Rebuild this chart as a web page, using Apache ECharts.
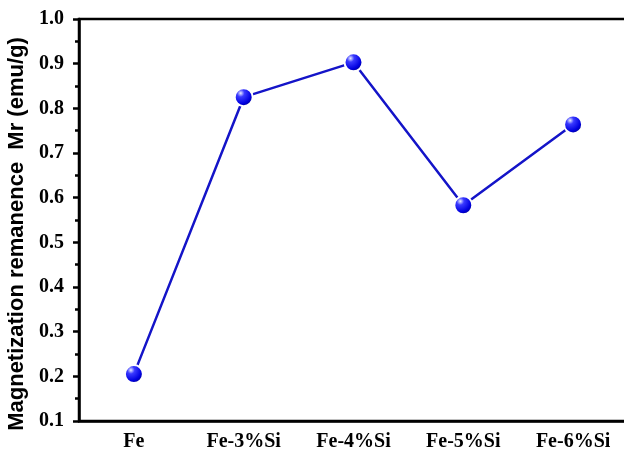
<!DOCTYPE html>
<html>
<head>
<meta charset="utf-8">
<script src="https://cdn.jsdelivr.net/npm/echarts@6/dist/echarts.min.js"></script>
<style>
  html, body { margin: 0; padding: 0; background: #fff; }
  #chart { width: 624px; height: 457px; }
</style>
</head>
<body>
<div id="chart"></div>
<script>
// Samples along the x axis
const categories = ['Fe', 'Fe-3%Si', 'Fe-4%Si', 'Fe-5%Si', 'Fe-6%Si'];
// Remanent magnetization Mr (emu/g)
const mrValues = [0.205, 0.825, 0.903, 0.583, 0.764];

const yMin = 0.1, yMax = 1.0, yStep = 0.1;

const chart = echarts.init(document.getElementById('chart'), null, { renderer: 'canvas' });

const labelFont = {
  fontFamily: '"Liberation Serif", "Times New Roman", serif',
  fontWeight: 'bold',
  fontSize: 20,
  color: '#000'
};

// Glossy blue ball used for each point
const ballFill = new echarts.graphic.RadialGradient(0.35, 0.3, 0.75, [
  { offset: 0, color: '#e8ecff' },
  { offset: 0.25, color: '#3a3aff' },
  { offset: 0.7, color: '#0000e0' },
  { offset: 1, color: '#00007a' }
]);

chart.setOption({
  animation: false,
  grid: {
    left: 79, top: 19, right: -4, bottom: 36,
    outerBoundsMode: 'none',
    containLabel: false,
    show: true, borderColor: '#000', borderWidth: 2.5, backgroundColor: 'transparent'
  },
  xAxis: [
    {
      type: 'category',
      data: categories,
      boundaryGap: true,
      position: 'bottom',
      axisLine: { lineStyle: { color: '#000', width: 2.5 } },
      axisTick: { alignWithLabel: true, length: 6, lineStyle: { color: '#000', width: 2.5 } },
      axisLabel: Object.assign({ margin: 11, interval: 0 }, labelFont),
      splitLine: { show: false }
    },
    {
      // boundary ticks between the samples
      type: 'category',
      data: categories,
      boundaryGap: true,
      position: 'bottom',
      axisLine: { show: false },
      axisTick: { length: 4, interval: 0, lineStyle: { color: '#000', width: 2.5 } },
      axisLabel: { show: false },
      splitLine: { show: false }
    }
  ],
  yAxis: {
    type: 'value',
    min: yMin,
    max: yMax,
    interval: yStep,
    name: 'Magnetization remanence  Mr (emu/g)',
    nameLocation: 'middle',
    nameGap: 49,
    nameTextStyle: {
      fontFamily: '"Liberation Sans", Arial, sans-serif',
      fontWeight: 'bold',
      fontSize: 22,
      color: '#000',
      padding: [0, 28, 0, 0]
    },
    axisLine: { show: true, lineStyle: { color: '#000', width: 2.5 } },
    axisTick: { show: true, length: 6, lineStyle: { color: '#000', width: 2.5 } },
    minorTick: { show: true, splitNumber: 2, length: 4, lineStyle: { color: '#000', width: 2.5 } },
    axisLabel: Object.assign({ margin: 15, formatter: v => v.toFixed(1) }, labelFont),
    splitLine: { show: false }
  },
  series: [{
    type: 'line',
    xAxisIndex: 0,
    data: mrValues,
    symbol: 'circle',
    symbolSize: 18,
    lineStyle: { color: '#1414c8', width: 2.5 },
    itemStyle: { color: ballFill, borderColor: '#fff', borderWidth: 2 },
    z: 3
  }]
});
</script>
</body>
</html>
